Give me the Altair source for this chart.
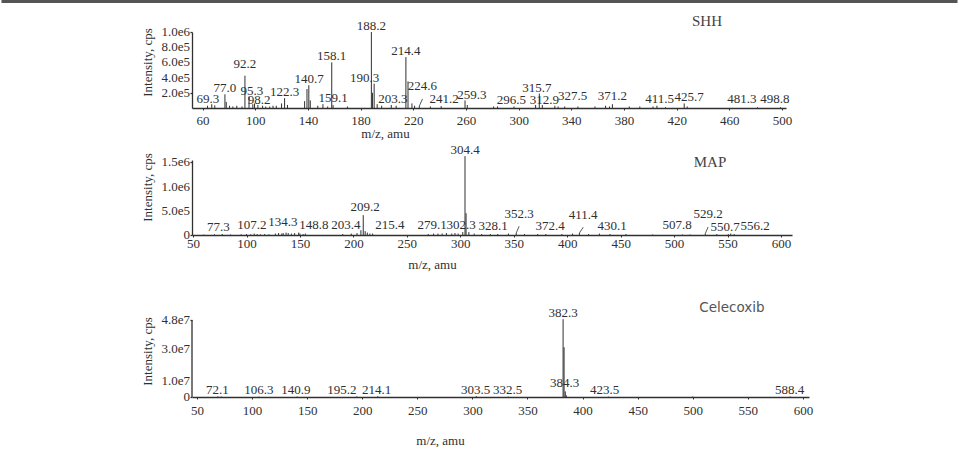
import altair as alt
import pandas as pd

SERIF = "Liberation Serif"
INK = "#303030"

# ---------------- SHH ----------------
shh_mz = [69.3, 77.0, 92.2, 95.3, 98.2, 122.3, 140.7, 158.1, 159.1, 188.2, 190.3, 203.3, 214.4,
          224.6, 241.2, 259.3, 296.5, 312.9, 315.7, 327.5, 371.2, 411.5, 425.7, 481.3, 498.8]
shh_int = [0.35e5, 1.8e5, 4.25e5, 1.5e5, 0.5e5, 1.3e5, 3.0e5, 6.0e5, 0.4e5, 1.0e6, 3.2e5, 0.4e5, 6.7e5,
           0.25e5, 0.25e5, 1.0e5, 0.2e5, 0.4e5, 1.9e5, 0.3e5, 0.5e5, 0.1e5, 0.6e5, 0.1e5, 0.1e5]
shh_label_mz = [64.0, 77.0, 92.2, 97.5, 103.0, 122.3, 141.0, 158.1, 159.1, 188.2, 183.0, 204.5, 214.4,
                227.0, 243.5, 264.5, 294.5, 319.5, 313.8, 341.0, 371.2, 407.0, 429.5, 469.5, 494.5]
shh_label_int = [0.37e5, 1.8e5, 5.0e5, 1.5e5, 0.2e5, 1.35e5, 3.0e5, 6.0e5, 0.56e5, 1.0e6, 3.2e5, 0.43e5, 6.75e5,
                 2.14e5, 0.43e5, 0.96e5, 0.2e5, 0.2e5, 1.88e5, 0.83e5, 0.83e5, 0.43e5, 0.6e5, 0.43e5, 0.43e5]
shh_minor_mz = [63.8, 67.0, 78.0, 80.5, 83.0, 86.0, 90.0, 99.5, 102.0, 105.6, 108.0, 111.0, 113.5, 116.0,
                120.0, 124.5, 137.5, 139.3, 141.8, 147.5, 151.4, 155.0, 170.0, 189.0, 192.6, 196.0, 207.0,
                216.0, 219.0, 221.0, 233.0, 261.0, 281.0, 284.0, 318.0, 330.0, 335.0, 345.0, 358.0, 366.0,
                369.0, 384.0, 392.0, 402.0, 405.0, 428.0]
shh_minor_int = [0.3e5, 0.5e5, 0.8e5, 0.3e5, 0.2e5, 0.3e5, 0.2e5, 0.6e5, 0.4e5, 0.3e5, 0.2e5, 0.2e5, 0.3e5, 0.3e5,
                 0.6e5, 0.4e5, 0.9e5, 2.5e5, 1.0e5, 0.3e5, 0.5e5, 0.2e5, 0.2e5, 2.0e5, 0.5e5, 0.3e5, 0.3e5,
                 3.5e5, 0.6e5, 0.3e5, 0.2e5, 0.4e5, 0.2e5, 0.2e5, 0.4e5, 0.2e5, 0.2e5, 0.2e5, 0.2e5, 0.3e5,
                 0.2e5, 0.2e5, 0.2e5, 0.2e5, 0.3e5, 0.2e5]
shh_xticks = [60, 100, 140, 180, 220, 260, 300, 340, 380, 420, 460, 500]
shh_yticks = [2e5, 4e5, 6e5, 8e5, 1e6]

# ---------------- MAP ----------------
map_mz = [77.3, 107.2, 134.3, 148.8, 203.4, 209.2, 215.4, 279.1, 302.3, 304.4, 328.1, 352.3, 372.4,
          411.4, 430.1, 507.8, 529.2, 550.7, 556.2]
map_int = [0.2e5, 0.3e5, 0.4e5, 0.5e5, 0.4e5, 4.1e5, 0.3e5, 0.3e5, 0.6e5, 16.3e5, 0.2e5, 0.4e5, 0.2e5,
           0.4e5, 0.3e5, 0.1e5, 0.3e5, 0.2e5, 0.2e5]
map_label_mz = [73.6, 105.0, 134.0, 163.0, 193.0, 211.0, 234.0, 273.6, 300.7, 304.4, 330.6, 355.0, 384.0,
                415.0, 442.0, 502.8, 531.8, 547.7, 575.7]
map_label_int = [0.41e5, 0.76e5, 1.45e5, 0.9e5, 0.76e5, 4.5e5, 0.76e5, 0.76e5, 0.76e5, 16.4e5, 0.62e5, 3.2e5, 0.62e5,
                 2.83e5, 0.62e5, 0.9e5, 3.0e5, 0.41e5, 0.62e5]
map_minor_mz = [60, 70, 85, 95, 100, 104, 110, 113, 117, 121, 127, 130, 133, 137, 139, 142, 145, 150, 153, 155,
                190, 198, 207, 211, 213, 218, 270, 275, 283, 287, 292, 295, 298, 305.4, 308, 313, 320, 335,
                345, 360, 380, 395, 405, 420, 440, 455, 480, 515, 540, 553]
map_minor_int = [0.1e5, 0.15e5, 0.1e5, 0.15e5, 0.2e5, 0.15e5, 0.2e5, 0.15e5, 0.2e5, 0.15e5, 0.3e5, 0.4e5, 0.3e5,
                 0.5e5, 0.4e5, 0.3e5, 0.4e5, 0.3e5, 0.2e5, 0.3e5, 0.2e5, 0.3e5, 1.0e5, 0.8e5, 0.5e5, 0.3e5,
                 0.2e5, 0.3e5, 0.3e5, 0.4e5, 0.3e5, 0.4e5, 0.3e5, 4.5e5, 0.6e5, 0.3e5, 0.2e5, 0.2e5, 0.3e5,
                 0.2e5, 0.2e5, 0.2e5, 0.3e5, 0.2e5, 0.2e5, 0.2e5, 0.1e5, 0.1e5, 0.2e5, 0.3e5]
map_xticks = [50, 100, 150, 200, 250, 300, 350, 400, 450, 500, 550, 600]
map_yticks = [0, 5e5, 1e6, 1.5e6]

# ---------------- Celecoxib ----------------
cel_mz = [72.1, 106.3, 140.9, 195.2, 214.1, 303.5, 332.5, 382.3, 384.3, 423.5, 588.4]
cel_int = [0.3e6, 0.2e6, 0.3e6, 0.4e6, 0.5e6, 0.4e6, 0.2e6, 48.5e6, 3.5e6, 0.2e6, 0.3e6]
cel_label_mz = [68.5, 106.3, 139.8, 181.6, 213.0, 303.0, 332.0, 382.3, 383.6, 420.0, 588.0]
cel_label_int = [0.45e6, 0.45e6, 0.45e6, 0.45e6, 0.45e6, 0.45e6, 0.45e6, 48.8e6, 5.0e6, 0.45e6, 0.45e6]
cel_minor_mz = [69.0, 303.8, 383.2, 385.3, 500.0]
cel_minor_int = [0.4e6, 0.3e6, 31e6, 1.0e6, 0.3e6]
cel_xticks = [50, 100, 150, 200, 250, 300, 350, 400, 450, 500, 550, 600]
cel_yticks = [0, 1e7, 3e7, 4.8e7]

YLAB = "datum.v == 0 ? '0' : replace(format(datum.v, '.1e'), '+', '')"


def panel(mz, inten, lmz, lint, minor_mz, minor_int, xdom, xticks, ydom, yticks, width, height,
          xlabpad, ytitle_y, xtitle_x, xtitle_y, title, title_x, title_y, title_font, title_size,
          title_color, draw_y_line=False, extra=None):
    peaks = pd.DataFrame({"mz": list(mz) + list(minor_mz),
                          "inten": list(inten) + list(minor_int)})
    peaks["base"] = 0.0
    labels = pd.DataFrame({"mz": mz, "lx": lmz, "ly": lint, "inten": inten})
    top = max(yticks)
    conn = labels[(labels["ly"] - labels["inten"]) > 0.08 * top].copy()
    conn["cx"] = conn["lx"]
    conn["cy"] = (conn["ly"] + conn["inten"]) / 2
    ticks = pd.DataFrame({"v": yticks})

    xs = alt.Scale(domain=xdom, nice=False, zero=False)
    ys = alt.Scale(domain=ydom, nice=False, zero=False)
    x_axis = alt.Axis(values=xticks, format="d", title="m/z, amu", grid=False,
                      labelFont=SERIF, labelFontSize=13, labelColor=INK, labelPadding=xlabpad,
                      labelOverlap=False,
                      tickSize=2, tickColor=INK, domainColor=INK, domainWidth=1.3,
                      titleFont=SERIF, titleFontSize=13, titleFontWeight="normal", titleColor=INK,
                      titleX=xtitle_x, titleY=xtitle_y, titleAlign="center",
                      titleBaseline="alphabetic", labelFlush=False)
    y_axis = alt.Axis(values=yticks, labels=False, title="Intensity, cps", grid=False,
                      tickSize=2, tickColor=INK, tickWidth=1.3, domain=not draw_y_line,
                      domainColor=INK, domainWidth=1.3, titleFont=SERIF, titleFontSize=13,
                      titleFontWeight="normal", titleColor=INK, titleX=-41, titleY=ytitle_y,
                      titleAngle=270, titleAlign="center", titleBaseline="alphabetic")

    layers = [
        alt.Chart(peaks).mark_rule(color=INK, strokeWidth=1, clip=False).encode(
            x=alt.X("mz:Q", scale=xs, axis=x_axis),
            y=alt.Y("inten:Q", scale=ys, axis=y_axis),
            y2="base:Q"),
        alt.Chart(conn).mark_rule(color=INK, strokeWidth=0.8).encode(
            x="mz:Q", y="inten:Q", x2="cx:Q", y2="cy:Q"),
        alt.Chart(labels).mark_text(font=SERIF, fontSize=13, color=INK, baseline="alphabetic",
                                    align="center", dy=-2).encode(
            x="lx:Q", y="ly:Q", text=alt.Text("mz:Q", format=".1f")),
        alt.Chart(ticks).transform_calculate(lab=YLAB).mark_text(
            font=SERIF, fontSize=13, color=INK, baseline="middle", align="right").encode(
            x=alt.value(-2), y="v:Q", text="lab:N"),
        alt.Chart(pd.DataFrame({"t": [title]})).mark_text(
            font=title_font, fontSize=title_size, color=title_color, baseline="middle",
            align="center").encode(x=alt.value(title_x), y=alt.value(title_y), text="t:N"),
    ]
    if draw_y_line:
        layers.append(alt.Chart(pd.DataFrame({"a": [0]})).mark_rule(color=INK, strokeWidth=1.3).encode(
            x=alt.value(0), y=alt.datum(0), y2=alt.datum(top)))
    if extra is not None:
        layers.append(extra)
    return alt.layer(*layers).properties(width=width, height=height)


border = alt.Chart(pd.DataFrame({"a": [0]})).mark_rule(color="#555555", strokeWidth=3).encode(
    x=alt.value(-190.5), x2=alt.value(765.5), y=alt.value(-30.5))

p1 = panel(shh_mz, shh_int, shh_label_mz, shh_label_int, shh_minor_mz, shh_minor_int,
           [52, 503], shh_xticks, [0, 1e6], shh_yticks, 594, 76,
           4, 30, 193, 29, "SHH", 515, -11, SERIF, 15, "#444444", extra=border)
p2 = panel(map_mz, map_int, map_label_mz, map_label_int, map_minor_mz, map_minor_int,
           [49, 610.3], map_xticks, [0, 1.55e6], map_yticks, 600, 75,
           0, 27, 240, 33, "MAP", 518, 2, SERIF, 15, "#444444")
p3 = panel(cel_mz, cel_int, cel_label_mz, cel_label_int, cel_minor_mz, cel_minor_int,
           [45.5, 605.5], cel_xticks, [0, 6.857e7], cel_yticks, 617, 110,
           5, 64, 248, 47, "Celecoxib", 540, 20.5, "DejaVu Sans", 13.5, "#555555", draw_y_line=True)

chart = alt.vconcat(p1, p2, p3, spacing=52, bounds="flush").properties(
    padding=0, background="white").configure_view(stroke=None)

chart.save("out.html", embed_options={"renderer": "svg", "actions": False})
